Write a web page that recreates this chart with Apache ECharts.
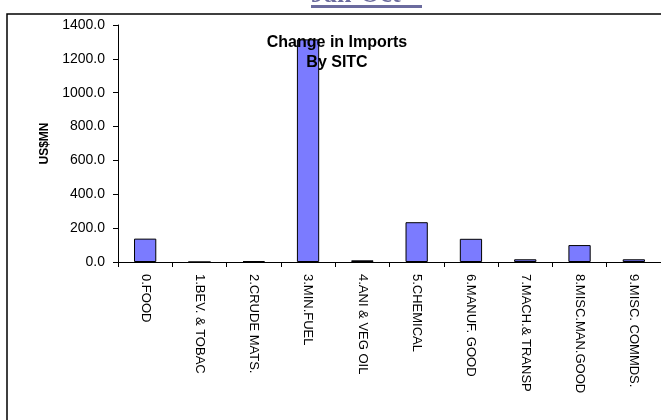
<!DOCTYPE html>
<html>
<head>
<meta charset="utf-8">
<script src="https://cdn.jsdelivr.net/npm/echarts@6/dist/echarts.min.js"></script>
<style>
html,body{margin:0;padding:0;background:#fff;}
#chart{width:661px;height:420px;}
</style>
</head>
<body>
<div id="chart"></div>
<script>
const categories = ["0.FOOD","1.BEV. & TOBAC","2.CRUDE MATS.","3.MIN.FUEL","4.ANI & VEG OIL","5.CHEMICAL","6.MANUF. GOOD","7.MACH.& TRANSP","8.MISC.MAN.GOOD","9.MISC. COMMDS."];
const importChange = [138, 0, 5, 1315, 10, 235, 137, 16, 100, 16];
const yTicks = { min: 0, max: 1400, interval: 200 };

const chart = echarts.init(document.getElementById('chart'));
chart.setOption({
  animation: false,
  backgroundColor: '#fff',
  textStyle: { fontFamily: 'Liberation Sans, Arial, sans-serif' },
  title: {
    text: 'Change in Imports\nBy SITC',
    left: 332, top: 28, textAlign: 'center',
    textStyle: { fontSize: 16, fontWeight: 'bold', color: '#000', lineHeight: 20, align: 'center', fontFamily: 'Liberation Sans, Arial, sans-serif' }
  },
  grid: { left: 118, right: 0, top: 25, bottom: 158, containLabel: false },
  xAxis: {
    type: 'category', data: categories, boundaryGap: true,
    axisLine: { lineStyle: { color: '#000', width: 1 } },
    axisTick: { show: true, interval: 0, length: 5, lineStyle: { color: '#000' } },
    axisLabel: { interval: 0, rotate: -90, margin: 12, fontSize: 13, color: '#000', fontFamily: 'Liberation Sans, Arial, sans-serif' }
  },
  yAxis: {
    type: 'value', min: yTicks.min, max: yTicks.max, interval: yTicks.interval,
    name: 'US$MN', nameLocation: 'middle', nameRotate: 90, nameGap: 67,
    nameTextStyle: { fontSize: 12, fontWeight: 'bold', color: '#000', fontFamily: 'Liberation Sans, Arial, sans-serif' },
    axisLine: { show: true, lineStyle: { color: '#000', width: 1 } },
    axisTick: { show: true, length: 5, lineStyle: { color: '#000' } },
    splitLine: { show: false },
    axisLabel: { fontSize: 14, color: '#000', margin: 13, formatter: v => v.toFixed(1), fontFamily: 'Liberation Sans, Arial, sans-serif' }
  },
  series: [{
    type: 'bar', data: importChange, barCategoryGap: '59%',
    itemStyle: { color: '#7b7bff', borderColor: '#000', borderWidth: 1 }
  }],
  graphic: [
    { type: 'polyline', shape: { points: [[7,420],[7,14],[661,14]] }, style: { stroke: '#000', lineWidth: 1.5, fill: null }, z: 10 },
    { type: 'text', left: 311, top: -18, style: { text: 'Jan-Oct', font: 'bold 26px "Liberation Serif", serif', fill: '#6b6b9e' }, z: 10 },
    { type: 'rect', shape: { x: 311, y: 5, width: 111, height: 3 }, style: { fill: '#6b6b9e' }, z: 10 }
  ]
});
</script>
</body>
</html>
